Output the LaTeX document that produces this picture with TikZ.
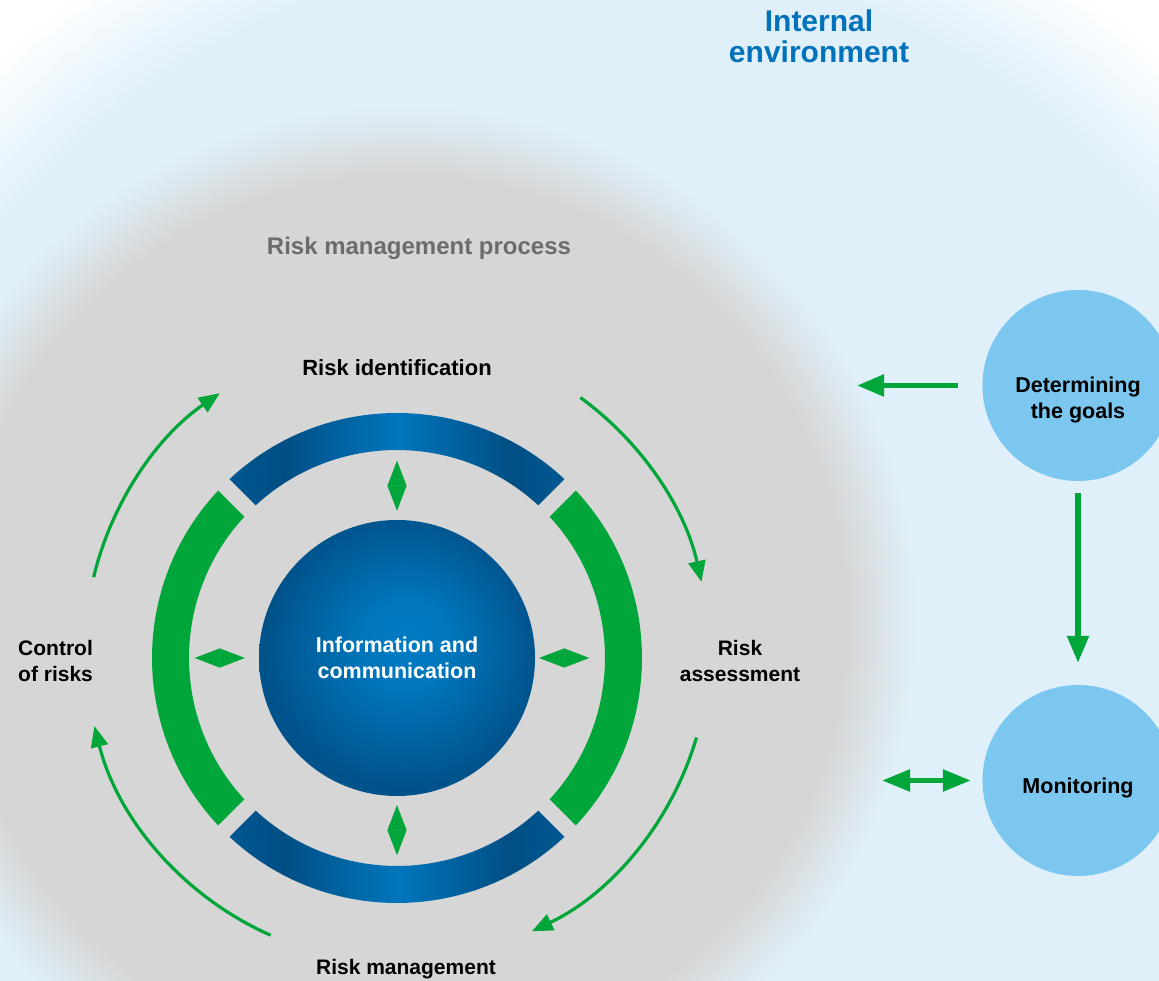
\documentclass[tikz,border=0pt]{standalone}
\usepackage{fontspec}
\setmainfont{Liberation Sans}
\usetikzlibrary{arrows.meta,calc}
\definecolor{bgblue}{RGB}{223,240,250}
\definecolor{graybg}{RGB}{214,214,214}
\definecolor{grn}{RGB}{0,166,57}
\definecolor{ltblue}{RGB}{123,199,240}
\definecolor{bdark}{RGB}{0,78,132}
\definecolor{bmid}{RGB}{0,88,145}
\definecolor{blight}{RGB}{0,118,188}
\definecolor{corelight}{RGB}{0,124,196}
\definecolor{coredark}{RGB}{0,82,138}
\definecolor{titleblue}{RGB}{0,114,187}
\definecolor{titlegray}{RGB}{108,108,108}
\pgfdeclareradialshading{bgshade}{\pgfpoint{0bp}{0bp}}{color(0bp)=(bgblue); color(21.5bp)=(bgblue); color(25bp)=(white); color(50bp)=(white)}
\pgfdeclareradialshading{grayshade}{\pgfpoint{0bp}{0bp}}{color(0bp)=(graybg); color(21.6bp)=(graybg); color(25bp)=(bgblue); color(50bp)=(bgblue)}
\pgfdeclarehorizontalshading{arcshade}{100bp}{color(0bp)=(bmid); color(25bp)=(bmid); color(33bp)=(bdark); color(50bp)=(blight); color(67bp)=(bdark); color(75bp)=(bmid); color(100bp)=(bmid)}
\pgfdeclareradialshading{coreshade}{\pgfpoint{2bp}{3bp}}{color(0bp)=(corelight); color(8bp)=(blight); color(25bp)=(coredark); color(50bp)=(coredark)}
\newcommand\ringseg[3]{%
  \path[#1] ($(C)+(#2+1.87:245)$) arc[start angle=#2+1.87, end angle=#3-1.87, radius=245]
    -- ($(C)+(#3-2.2:208)$) arc[start angle=#3-2.2, end angle=#2+2.2, radius=208] -- cycle;}
\begin{document}
\begin{tikzpicture}[x=1pt,y=1pt,
  lbl/.style={font=\fontsize{21}{26}\selectfont\bfseries, text=black, inner sep=0pt},
  bigarrow/.style={draw=grn, line width=5.5pt, -{Triangle[length=27pt,width=21pt]}},
  bigdouble/.style={draw=grn, line width=5.5pt, {Triangle[length=28pt,width=21pt]}-{Triangle[length=28pt,width=21pt]}},
  thinarrow/.style={draw=grn, line width=3.2pt, -{Triangle[length=21pt,width=17pt]}},
  dia/.style={draw=grn, fill=grn, line width=0.4pt, {Triangle[length=25pt,width=19pt]}-{Triangle[length=25pt,width=19pt]}},
  goalcircle/.style={circle, fill=ltblue, minimum size=191pt, inner sep=0pt},
]
\useasboundingbox (0,0) rectangle (1159,981);
\clip (0,0) rectangle (1159,981);
\fill[white] (0,0) rectangle (1159,981);
\shade[shading=bgshade] (580,281) circle[radius=870];
\shade[shading=grayshade] (402,361) circle[radius=515];

% ring
\coordinate (C) at (397,323);
\ringseg{shade, shading=arcshade}{45}{135}
\ringseg{fill=grn}{135}{225}
\ringseg{shade, shading=arcshade}{225}{315}
\ringseg{fill=grn}{-45}{45}

% core
\node[circle, minimum size=276pt, inner sep=0pt, shade, shading=coreshade,
      text=white, font=\fontsize{21.5}{26}\selectfont\bfseries, align=center] (core) at (C)
      {Information and\\communication};

% diamonds
\draw[dia] ([yshift=9pt]core.north) -- ([yshift=59pt]core.north);
\draw[dia] ([yshift=-9pt]core.south) -- ([yshift=-59pt]core.south);
\draw[dia] ([xshift=-14pt]core.west) -- ([xshift=-64pt]core.west);
\draw[dia] ([xshift=4pt]core.east) -- ([xshift=54pt]core.east);

% cycle arrows
\coordinate (C2) at (397,331);
\draw[thinarrow] ($(C2)+(166.5:312)$) arc[start angle=166.5,end angle=124.6,radius=312];
\draw[thinarrow] ($(C2)+(54:312)$) arc[start angle=54,end angle=12.6,radius=312];
\draw[thinarrow] ($(C2)+(-16.3:312)$) arc[start angle=-16.3,end angle=-64.4,radius=312];
\draw[thinarrow] ($(C2)+(246.1:312)$) arc[start angle=246.1,end angle=194.1,radius=312];

% labels
\node[font=\fontsize{30}{31}\selectfont\bfseries, text=titleblue, align=center, anchor=north, inner sep=0pt] (env) at (819,971) {Internal\\environment};
\node[font=\fontsize{24}{28}\selectfont\bfseries, text=titlegray, anchor=base, inner sep=0pt] (proc) at (419,726) {Risk management process};
\node[lbl, font=\fontsize{22}{26}\selectfont\bfseries, anchor=base] (ident) at (397,605) {Risk identification};
\node[lbl, align=left, anchor=north west] (ctrl) at (18,341) {Control\\of risks};
\node[lbl, align=center, anchor=north] (assess) at (740,341) {Risk\\assessment};
\node[lbl, anchor=base] (manage) at (406,6) {Risk management};

% right side
\node[goalcircle, label={[lbl, font=\fontsize{21.5}{26}\selectfont\bfseries, align=center, yshift=-14.6pt]center:{Determining\\the goals}}] (goals) at (1078,595.5) {};
\node[goalcircle, label={[lbl, font=\fontsize{21.5}{26}\selectfont\bfseries, yshift=-7pt]center:Monitoring}] (mon) at (1078,200.5) {};
\coordinate (toproc) at (857,595.5);
\coordinate (fromproc) at (882,200.5);
\draw[bigarrow] ([xshift=-24.5pt]goals.west) -- (toproc);
\draw[bigarrow] ([yshift=-12pt]goals.south) -- ([yshift=22pt]mon.north);
\draw[bigdouble] (fromproc) -- ([xshift=-11.5pt]mon.west);
\end{tikzpicture}
\end{document}
